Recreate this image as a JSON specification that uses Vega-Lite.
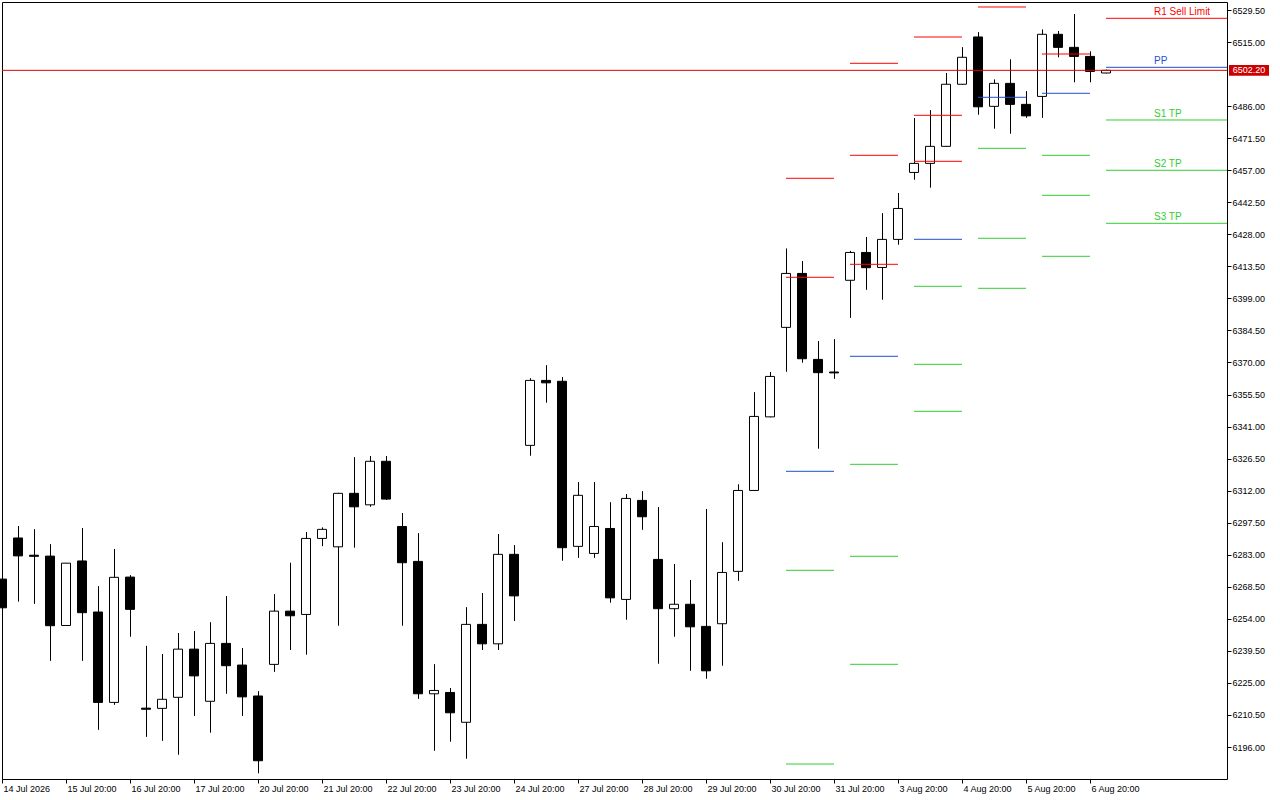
{
  "$schema": "https://vega.github.io/schema/vega-lite/v6.json",
  "width": 1225,
  "height": 777,
  "autosize": {"type": "none"},
  "padding": {"left": 2, "top": 2, "right": 53, "bottom": 21},
  "background": "white",
  "config": {
    "view": {"stroke": "black", "strokeWidth": 1},
    "axis": {"labelFont": "Liberation Sans", "labelFontSize": 9, "labelColor": "black", "tickColor": "black", "grid": false, "domain": false, "labelOverlap": false, "labelSeparation": 0}
  },
  "datasets": {
    "candles": [
      {"i": 0, "o": 6272.0, "h": 6273.0, "l": 6258.0, "c": 6259.0},
      {"i": 1, "o": 6290.6, "h": 6296.0, "l": 6261.8, "c": 6282.5},
      {"i": 2, "o": 6282.8, "h": 6294.6, "l": 6260.8, "c": 6282.3},
      {"i": 3, "o": 6282.4, "h": 6287.8, "l": 6235.0, "c": 6250.9},
      {"i": 4, "o": 6251.0, "h": 6279.2, "l": 6251.0, "c": 6279.2},
      {"i": 5, "o": 6280.2, "h": 6295.1, "l": 6235.0, "c": 6256.8},
      {"i": 6, "o": 6257.1, "h": 6268.8, "l": 6203.8, "c": 6216.2},
      {"i": 7, "o": 6216.2, "h": 6285.6, "l": 6215.1, "c": 6272.8},
      {"i": 8, "o": 6272.9, "h": 6273.8, "l": 6245.9, "c": 6258.3},
      {"i": 9, "o": 6213.6, "h": 6241.8, "l": 6200.6, "c": 6213.1},
      {"i": 10, "o": 6213.5, "h": 6238.1, "l": 6198.8, "c": 6217.6},
      {"i": 11, "o": 6218.5, "h": 6247.6, "l": 6192.5, "c": 6240.3},
      {"i": 12, "o": 6240.3, "h": 6248.5, "l": 6210.1, "c": 6228.2},
      {"i": 13, "o": 6216.7, "h": 6252.5, "l": 6202.5, "c": 6242.9},
      {"i": 14, "o": 6242.9, "h": 6264.3, "l": 6220.1, "c": 6232.8},
      {"i": 15, "o": 6233.1, "h": 6240.8, "l": 6210.1, "c": 6218.7},
      {"i": 16, "o": 6219.1, "h": 6221.3, "l": 6184.1, "c": 6189.8},
      {"i": 17, "o": 6233.4, "h": 6265.2, "l": 6230.0, "c": 6257.5},
      {"i": 18, "o": 6257.5, "h": 6279.4, "l": 6239.9, "c": 6255.4},
      {"i": 19, "o": 6256.0, "h": 6293.3, "l": 6237.8, "c": 6290.4},
      {"i": 20, "o": 6290.4, "h": 6295.4, "l": 6286.9, "c": 6294.5},
      {"i": 21, "o": 6286.6, "h": 6311.0, "l": 6250.9, "c": 6310.8},
      {"i": 22, "o": 6310.8, "h": 6327.2, "l": 6286.2, "c": 6304.7},
      {"i": 23, "o": 6305.6, "h": 6327.7, "l": 6304.7, "c": 6325.3},
      {"i": 24, "o": 6325.3, "h": 6327.7, "l": 6307.8, "c": 6308.2},
      {"i": 25, "o": 6295.8, "h": 6301.9, "l": 6250.9, "c": 6279.4},
      {"i": 26, "o": 6280.0, "h": 6292.8, "l": 6217.8, "c": 6220.1},
      {"i": 27, "o": 6220.1, "h": 6233.5, "l": 6194.3, "c": 6221.6},
      {"i": 28, "o": 6220.7, "h": 6222.7, "l": 6198.4, "c": 6211.5},
      {"i": 29, "o": 6207.2, "h": 6259.3, "l": 6190.7, "c": 6251.5},
      {"i": 30, "o": 6251.5, "h": 6265.7, "l": 6239.9, "c": 6242.7},
      {"i": 31, "o": 6242.7, "h": 6292.4, "l": 6239.9, "c": 6283.2},
      {"i": 32, "o": 6283.2, "h": 6287.4, "l": 6253.0, "c": 6264.4},
      {"i": 33, "o": 6332.5, "h": 6362.9, "l": 6327.8, "c": 6361.9},
      {"i": 34, "o": 6361.9, "h": 6368.8, "l": 6351.8, "c": 6360.8},
      {"i": 35, "o": 6361.5, "h": 6363.4, "l": 6280.3, "c": 6286.2},
      {"i": 36, "o": 6286.8, "h": 6315.9, "l": 6281.6, "c": 6309.9},
      {"i": 37, "o": 6283.6, "h": 6315.9, "l": 6281.6, "c": 6295.8},
      {"i": 38, "o": 6294.9, "h": 6306.8, "l": 6261.3, "c": 6263.5},
      {"i": 39, "o": 6262.8, "h": 6310.5, "l": 6253.6, "c": 6308.5},
      {"i": 40, "o": 6307.6, "h": 6311.8, "l": 6294.3, "c": 6300.2},
      {"i": 41, "o": 6280.9, "h": 6304.6, "l": 6233.7, "c": 6258.6},
      {"i": 42, "o": 6258.6, "h": 6278.8, "l": 6245.9, "c": 6260.6},
      {"i": 43, "o": 6260.6, "h": 6271.6, "l": 6230.5, "c": 6250.4},
      {"i": 44, "o": 6250.6, "h": 6303.7, "l": 6226.9, "c": 6230.5},
      {"i": 45, "o": 6251.8, "h": 6288.7, "l": 6232.8, "c": 6275.0},
      {"i": 46, "o": 6275.5, "h": 6314.9, "l": 6271.2, "c": 6312.1},
      {"i": 47, "o": 6312.1, "h": 6356.6, "l": 6312.0, "c": 6345.6},
      {"i": 48, "o": 6345.4, "h": 6365.7, "l": 6345.2, "c": 6363.7},
      {"i": 49, "o": 6385.9, "h": 6421.6, "l": 6365.8, "c": 6410.3},
      {"i": 50, "o": 6410.3, "h": 6415.9, "l": 6369.9, "c": 6371.7},
      {"i": 51, "o": 6371.4, "h": 6379.7, "l": 6331.0, "c": 6365.4},
      {"i": 52, "o": 6365.7, "h": 6380.6, "l": 6362.6, "c": 6365.3},
      {"i": 53, "o": 6407.2, "h": 6420.5, "l": 6390.2, "c": 6419.8},
      {"i": 54, "o": 6419.8, "h": 6426.8, "l": 6402.9, "c": 6412.9},
      {"i": 55, "o": 6413.0, "h": 6437.6, "l": 6398.4, "c": 6425.7},
      {"i": 56, "o": 6425.7, "h": 6446.7, "l": 6423.3, "c": 6439.7},
      {"i": 57, "o": 6456.0, "h": 6480.6, "l": 6452.7, "c": 6460.1},
      {"i": 58, "o": 6460.1, "h": 6484.2, "l": 6449.1, "c": 6467.8},
      {"i": 59, "o": 6467.8, "h": 6501.0, "l": 6467.5, "c": 6495.9},
      {"i": 60, "o": 6495.9, "h": 6512.7, "l": 6495.7, "c": 6508.1},
      {"i": 61, "o": 6517.3, "h": 6519.5, "l": 6482.1, "c": 6485.7},
      {"i": 62, "o": 6485.9, "h": 6498.1, "l": 6475.8, "c": 6496.3},
      {"i": 63, "o": 6496.3, "h": 6507.2, "l": 6473.5, "c": 6486.8},
      {"i": 64, "o": 6486.8, "h": 6492.8, "l": 6480.7, "c": 6481.6},
      {"i": 65, "o": 6490.4, "h": 6520.7, "l": 6480.7, "c": 6518.5},
      {"i": 66, "o": 6518.5, "h": 6520.0, "l": 6508.1, "c": 6512.6},
      {"i": 67, "o": 6512.6, "h": 6527.7, "l": 6496.8, "c": 6508.5},
      {"i": 68, "o": 6508.5, "h": 6510.8, "l": 6496.8, "c": 6501.7},
      {"i": 69, "o": 6501.0, "h": 6502.5, "l": 6500.8, "c": 6502.2}
    ],
    "pivots": [
      {"s": 49, "e": 52, "lvl": "R2", "kind": "R", "v": 6453.35},
      {"s": 49, "e": 52, "lvl": "R1", "kind": "R", "v": 6408.55},
      {"s": 49, "e": 52, "lvl": "PP", "kind": "PP", "v": 6320.77},
      {"s": 49, "e": 52, "lvl": "S1", "kind": "S", "v": 6275.97},
      {"s": 49, "e": 52, "lvl": "S2", "kind": "S", "v": 6188.32},
      {"s": 53, "e": 56, "lvl": "R3", "kind": "R", "v": 6505.38},
      {"s": 53, "e": 56, "lvl": "R2", "kind": "R", "v": 6463.75},
      {"s": 53, "e": 56, "lvl": "R1", "kind": "R", "v": 6414.43},
      {"s": 53, "e": 56, "lvl": "PP", "kind": "PP", "v": 6372.80},
      {"s": 53, "e": 56, "lvl": "S1", "kind": "S", "v": 6323.93},
      {"s": 53, "e": 56, "lvl": "S2", "kind": "S", "v": 6282.31},
      {"s": 53, "e": 56, "lvl": "S3", "kind": "S", "v": 6233.44},
      {"s": 57, "e": 60, "lvl": "R3", "kind": "R", "v": 6517.28},
      {"s": 57, "e": 60, "lvl": "R2", "kind": "R", "v": 6481.85},
      {"s": 57, "e": 60, "lvl": "R1", "kind": "R", "v": 6461.04},
      {"s": 57, "e": 60, "lvl": "PP", "kind": "PP", "v": 6425.74},
      {"s": 57, "e": 60, "lvl": "S1", "kind": "S", "v": 6404.48},
      {"s": 57, "e": 60, "lvl": "S2", "kind": "S", "v": 6369.18},
      {"s": 57, "e": 60, "lvl": "S3", "kind": "S", "v": 6347.92},
      {"s": 61, "e": 64, "lvl": "R1", "kind": "R", "v": 6530.86},
      {"s": 61, "e": 64, "lvl": "PP", "kind": "PP", "v": 6490.00},
      {"s": 61, "e": 64, "lvl": "S1", "kind": "S", "v": 6466.92},
      {"s": 61, "e": 64, "lvl": "S2", "kind": "S", "v": 6426.20},
      {"s": 61, "e": 64, "lvl": "S3", "kind": "S", "v": 6403.57},
      {"s": 65, "e": 68, "lvl": "R1", "kind": "R", "v": 6509.59},
      {"s": 65, "e": 68, "lvl": "PP", "kind": "PP", "v": 6491.81},
      {"s": 65, "e": 68, "lvl": "S1", "kind": "S", "v": 6463.75},
      {"s": 65, "e": 68, "lvl": "S2", "kind": "S", "v": 6445.65},
      {"s": 65, "e": 68, "lvl": "S3", "kind": "S", "v": 6418.05},
      {"s": 69, "e": 80, "lvl": "R1", "kind": "R", "v": 6525.74},
      {"s": 69, "e": 80, "lvl": "PP", "kind": "PP", "v": 6503.57},
      {"s": 69, "e": 80, "lvl": "S1", "kind": "S", "v": 6479.73},
      {"s": 69, "e": 80, "lvl": "S2", "kind": "S", "v": 6456.97},
      {"s": 69, "e": 80, "lvl": "S3", "kind": "S", "v": 6432.98}
    ],
    "labels": [
      {"label": "R1 Sell Limit", "kind": "R", "v": 6525.74},
      {"label": "PP", "kind": "PP", "v": 6503.57},
      {"label": "S1 TP", "kind": "S", "v": 6479.73},
      {"label": "S2 TP", "kind": "S", "v": 6456.97},
      {"label": "S3 TP", "kind": "S", "v": 6432.98}
    ],
    "last": [
      {"price": 6502.2, "text": "6502.20"}
    ]
  },
  "layer": [
    {
      "data": {"name": "candles"},
      "mark": {"type": "rule", "color": "black", "strokeWidth": 1, "xOffset": 0.5},
      "encoding": {
        "x": {
          "field": "i",
          "type": "quantitative",
          "scale": {"domain": [0, 76.5625], "nice": false, "zero": false, "padding": 0},
          "axis": {
            "orient": "bottom",
            "title": null,
            "values": [0, 4, 8, 12, 16, 20, 24, 28, 32, 36, 40, 44, 48, 52, 56, 60, 64, 68],
            "tickCount": 40,
            "labelExpr": "['14 Jul 2026','15 Jul 20:00','16 Jul 20:00','17 Jul 20:00','20 Jul 20:00','21 Jul 20:00','22 Jul 20:00','23 Jul 20:00','24 Jul 20:00','27 Jul 20:00','28 Jul 20:00','29 Jul 20:00','30 Jul 20:00','31 Jul 20:00','3 Aug 20:00','4 Aug 20:00','5 Aug 20:00','6 Aug 20:00'][datum.value / 4]",
            "labelAlign": "left",
            "labelBaseline": "top",
            "labelOffset": 1,
            "labelPadding": 1,
            "tickSize": 4,
            "labelFlush": false,
            "labelOverlap": false,
            "labelBound": false
          }
        },
        "y": {
          "field": "l",
          "type": "quantitative",
          "scale": {"domain": [6181.54, 6533.12], "nice": false, "zero": false},
          "axis": {
            "orient": "right",
            "title": null,
            "values": [6196, 6210.5, 6225, 6239.5, 6254, 6268.5, 6283, 6297.5, 6312, 6326.5, 6341, 6355.5, 6370, 6384.5, 6399, 6413.5, 6428, 6442.5, 6457, 6471.5, 6486, 6515, 6529.5],
            "tickCount": 40,
            "format": ".2f",
            "tickSize": 4,
            "labelPadding": 1,
            "labelAlign": "left",
            "labelBaseline": "middle",
            "labelOverlap": false,
            "labelFlush": false,
            "labelBound": false
          }
        },
        "y2": {"field": "h"}
      }
    },
    {
      "data": {"name": "candles"},
      "mark": {"type": "bar", "width": 9, "stroke": "black", "strokeWidth": 1},
      "encoding": {
        "x": {"field": "i", "type": "quantitative", "title": null},
        "y": {"field": "o", "type": "quantitative", "title": null},
        "y2": {"field": "c"},
        "fill": {
          "condition": {"test": "datum.c > datum.o", "value": "white"},
          "value": "black"
        }
      }
    },
    {
      "data": {"name": "pivots"},
      "mark": {"type": "rule", "strokeWidth": 1, "clip": true},
      "encoding": {
        "x": {"field": "s", "type": "quantitative", "title": null},
        "x2": {"field": "e"},
        "y": {"field": "v", "type": "quantitative", "title": null},
        "color": {
          "field": "kind",
          "type": "nominal",
          "scale": {"domain": ["R", "PP", "S"], "range": ["#ff0000", "#1f4fd0", "#32cd32"]},
          "legend": null
        }
      }
    },
    {
      "data": {"name": "last"},
      "mark": {"type": "rule", "color": "#e00000", "strokeWidth": 1},
      "encoding": {
        "y": {"field": "price", "type": "quantitative", "title": null}
      }
    },
    {
      "data": {"name": "labels"},
      "mark": {"type": "text", "align": "left", "baseline": "alphabetic", "dy": -3, "font": "Liberation Sans", "fontSize": 10},
      "encoding": {
        "x": {"datum": 72, "type": "quantitative"},
        "y": {"field": "v", "type": "quantitative", "title": null},
        "text": {"field": "label"},
        "color": {"field": "kind", "type": "nominal", "legend": null}
      }
    },
    {
      "data": {"name": "last"},
      "mark": {
        "type": "point",
        "shape": "M-1,-0.27L1,-0.27L1,0.27L-1,0.27Z",
        "filled": true,
        "size": 1600,
        "color": "#cc0000",
        "opacity": 1,
        "strokeWidth": 0,
        "xOffset": 22,
        "clip": false
      },
      "encoding": {
        "x": {"datum": 76.5625, "type": "quantitative"},
        "y": {"field": "price", "type": "quantitative", "title": null}
      }
    },
    {
      "data": {"name": "last"},
      "mark": {"type": "text", "color": "white", "font": "Liberation Sans", "fontSize": 9, "align": "center", "baseline": "middle", "xOffset": 22, "clip": false},
      "encoding": {
        "x": {"datum": 76.5625, "type": "quantitative"},
        "y": {"field": "price", "type": "quantitative", "title": null},
        "text": {"field": "text"}
      }
    }
  ]
}
